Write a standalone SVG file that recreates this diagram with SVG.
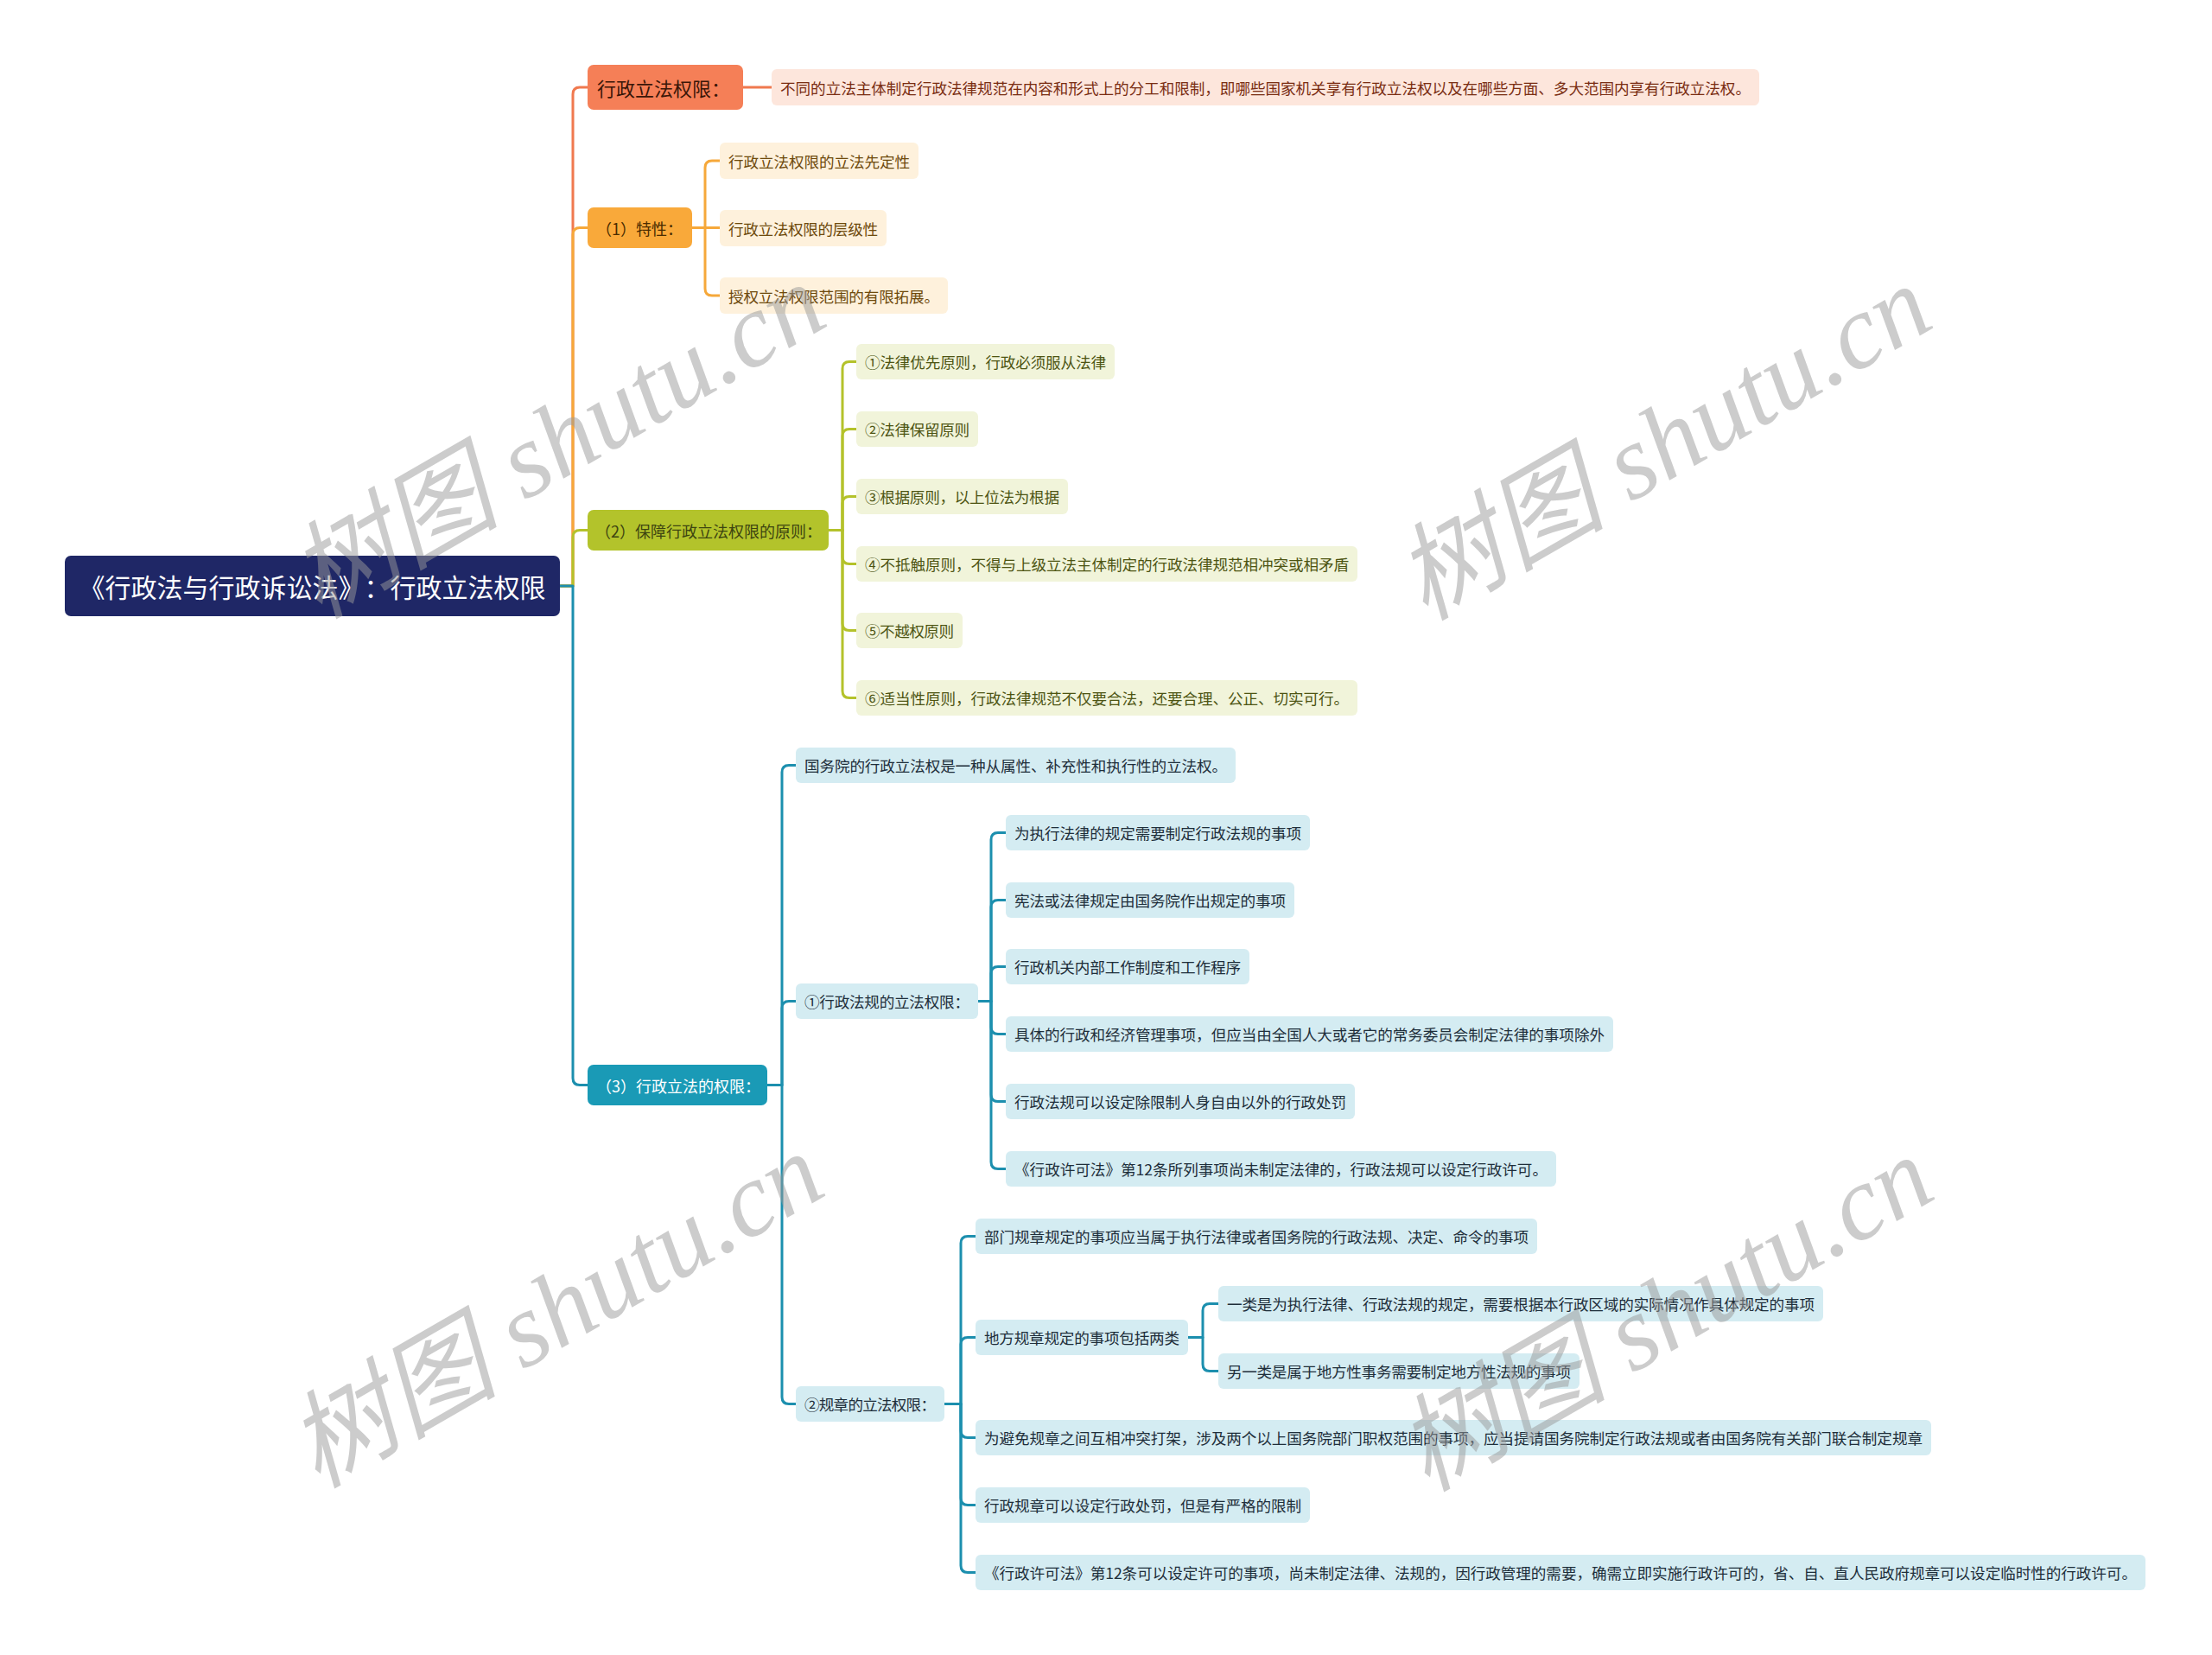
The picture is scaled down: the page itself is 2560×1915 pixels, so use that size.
<svg xmlns="http://www.w3.org/2000/svg" width="2560" height="1915" viewBox="0 0 2560 1915">
<style>
text{font-family:"Noto Sans CJK SC","Liberation Sans",sans-serif;dominant-baseline:central;text-spacing-trim:space-all}
.c{fill:none;stroke-width:3;stroke-linecap:round;stroke-linejoin:round}
.co{stroke:#f0794f}.cy{stroke:#f6a83a}.cg{stroke:#b4c22b}.ct{stroke:#1c8fae}
.t2{font-size:17.6px}
.n-co rect{fill:#fde6dc}.n-co text{fill:#7a2d12}
.n-y rect{fill:#fef1dc}.n-y text{fill:#6e4a0c}
.n-g rect{fill:#f1f4da}.n-g text{fill:#4d5412}
.n-t rect{fill:#d4ecf2}.n-t text{fill:#1e2e3a}
.wm{font-family:"Liberation Serif","Noto Sans CJK SC",serif;font-style:italic;font-size:122px;fill:#9a9a9a;opacity:0.5;text-anchor:middle}
</style>
<rect width="2560" height="1915" fill="#ffffff"/>

<g id="connectors">
  <path class="c co" d="M648 678 H663 V109 Q663 101 671 101 H680"/>
  <path class="c cy" d="M648 678 H663 V271.5 Q663 263.5 671 263.5 H680"/>
  <path class="c cg" d="M648 678 H663 V621.5 Q663 613.5 671 613.5 H680"/>
  <path class="c ct" d="M648 678 H663 V1247.5 Q663 1255.5 671 1255.5 H680"/>
  <path class="c co" d="M860 101 H893"/>
  <path class="c cy" d="M801 263.5 H816 V194 Q816 186 824 186 H833"/>
  <path class="c cy" d="M801 263.5 H833"/>
  <path class="c cy" d="M801 263.5 H816 V334 Q816 342 824 342 H833"/>
  <path class="c cg" d="M959 613.5 H975 V426.5 Q975 418.5 983 418.5 H991"/>
  <path class="c cg" d="M959 613.5 H975 V504.5 Q975 496.5 983 496.5 H991"/>
  <path class="c cg" d="M959 613.5 H975 V582.5 Q975 574.5 983 574.5 H991"/>
  <path class="c cg" d="M959 613.5 H975 V644.5 Q975 652.5 983 652.5 H991"/>
  <path class="c cg" d="M959 613.5 H975 V721.5 Q975 729.5 983 729.5 H991"/>
  <path class="c cg" d="M959 613.5 H975 V799.5 Q975 807.5 983 807.5 H991"/>
  <path class="c ct" d="M888 1255.5 H905 V893.5 Q905 885.5 913 885.5 H921"/>
  <path class="c ct" d="M888 1255.5 H905 V1166.5 Q905 1158.5 913 1158.5 H921"/>
  <path class="c ct" d="M888 1255.5 H905 V1616.5 Q905 1624.5 913 1624.5 H921"/>
  <path class="c ct" d="M1132 1158.5 H1147 V971.5 Q1147 963.5 1155 963.5 H1164"/>
  <path class="c ct" d="M1132 1158.5 H1147 V1049.5 Q1147 1041.5 1155 1041.5 H1164"/>
  <path class="c ct" d="M1132 1158.5 H1147 V1126.5 Q1147 1118.5 1155 1118.5 H1164"/>
  <path class="c ct" d="M1132 1158.5 H1147 V1188.5 Q1147 1196.5 1155 1196.5 H1164"/>
  <path class="c ct" d="M1132 1158.5 H1147 V1266.5 Q1147 1274.5 1155 1274.5 H1164"/>
  <path class="c ct" d="M1132 1158.5 H1147 V1344.5 Q1147 1352.5 1155 1352.5 H1164"/>
  <path class="c ct" d="M1093 1624.5 H1112 V1438.5 Q1112 1430.5 1120 1430.5 H1129"/>
  <path class="c ct" d="M1093 1624.5 H1112 V1555.5 Q1112 1547.5 1120 1547.5 H1129"/>
  <path class="c ct" d="M1093 1624.5 H1112 V1655.5 Q1112 1663.5 1120 1663.5 H1129"/>
  <path class="c ct" d="M1093 1624.5 H1112 V1733.5 Q1112 1741.5 1120 1741.5 H1129"/>
  <path class="c ct" d="M1093 1624.5 H1112 V1811.5 Q1112 1819.5 1120 1819.5 H1129"/>
  <path class="c ct" d="M1375 1547.5 H1392 V1516.5 Q1392 1508.5 1400 1508.5 H1410"/>
  <path class="c ct" d="M1375 1547.5 H1392 V1578.5 Q1392 1586.5 1400 1586.5 H1410"/>
</g>

<g id="root">
  <rect x="75" y="643" width="573" height="70" rx="7" fill="#1f2766"/>
  <text x="361.5" y="678" text-anchor="middle" font-size="30" fill="#ffffff">《行政法与行政诉讼法》：行政立法权限</text>
</g>

<g id="node-a">
  <rect x="680" y="75" width="180" height="52" rx="7" fill="#f57f57"/>
  <text x="691" y="101" font-size="22" fill="#3a1608">行政立法权限：</text>
</g>
<g id="node-a1" class="n-co">
  <rect x="893" y="80" width="1143" height="42" rx="6"/>
  <text class="t2" x="903" y="101" textLength="1123" lengthAdjust="spacing">不同的立法主体制定行政法律规范在内容和形式上的分工和限制，即哪些国家机关享有行政立法权以及在哪些方面、多大范围内享有行政立法权。</text>
</g>

<g id="node-b">
  <rect x="680" y="240" width="121" height="47" rx="7" fill="#f9a93a"/>
  <text x="690" y="263.5" font-size="18" fill="#4a2c00">（1）特性：</text>
</g>
<g id="node-b1" class="n-y"><rect x="833" y="165" width="230" height="42" rx="6"/><text class="t2" x="843" y="186" textLength="210" lengthAdjust="spacing">行政立法权限的立法先定性</text></g>
<g id="node-b2" class="n-y"><rect x="833" y="243" width="193" height="42" rx="6"/><text class="t2" x="843" y="264" textLength="173" lengthAdjust="spacing">行政立法权限的层级性</text></g>
<g id="node-b3" class="n-y"><rect x="833" y="321" width="264" height="42" rx="6"/><text class="t2" x="843" y="342" textLength="244" lengthAdjust="spacing">授权立法权限范围的有限拓展。</text></g>

<g id="node-c">
  <rect x="680" y="590" width="279" height="47" rx="7" fill="#b3c32b"/>
  <text x="689" y="613.5" font-size="18" fill="#3d4410">（2）保障行政立法权限的原则：</text>
</g>
<g id="node-c1" class="n-g"><rect x="991" y="398" width="299" height="41" rx="6"/><text class="t2" x="1001" y="418.5" textLength="279" lengthAdjust="spacing">①法律优先原则，行政必须服从法律</text></g>
<g id="node-c2" class="n-g"><rect x="991" y="476" width="141" height="41" rx="6"/><text class="t2" x="1001" y="496.5" textLength="121" lengthAdjust="spacing">②法律保留原则</text></g>
<g id="node-c3" class="n-g"><rect x="991" y="554" width="245" height="41" rx="6"/><text class="t2" x="1001" y="574.5" textLength="225" lengthAdjust="spacing">③根据原则，以上位法为根据</text></g>
<g id="node-c4" class="n-g"><rect x="991" y="632" width="580" height="41" rx="6"/><text class="t2" x="1001" y="652.5" textLength="560" lengthAdjust="spacing">④不抵触原则，不得与上级立法主体制定的行政法律规范相冲突或相矛盾</text></g>
<g id="node-c5" class="n-g"><rect x="991" y="709" width="123" height="41" rx="6"/><text class="t2" x="1001" y="729.5" textLength="103" lengthAdjust="spacing">⑤不越权原则</text></g>
<g id="node-c6" class="n-g"><rect x="991" y="787" width="580" height="41" rx="6"/><text class="t2" x="1001" y="807.5" textLength="560" lengthAdjust="spacing">⑥适当性原则，行政法律规范不仅要合法，还要合理、公正、切实可行。</text></g>

<g id="node-d">
  <rect x="680" y="1232" width="208" height="47" rx="7" fill="#1a9ab6"/>
  <text x="690" y="1255.5" font-size="18" fill="#ffffff">（3）行政立法的权限：</text>
</g>
<g id="node-d0" class="n-t"><rect x="921" y="865" width="509" height="41" rx="6"/><text class="t2" x="931" y="885.5" textLength="489" lengthAdjust="spacing">国务院的行政立法权是一种从属性、补充性和执行性的立法权。</text></g>
<g id="node-d1" class="n-t"><rect x="921" y="1138" width="211" height="41" rx="6"/><text class="t2" x="931" y="1158.5" textLength="191" lengthAdjust="spacing">①行政法规的立法权限：</text></g>
<g id="node-d1a" class="n-t"><rect x="1164" y="943" width="352" height="41" rx="6"/><text class="t2" x="1174" y="963.5" textLength="332" lengthAdjust="spacing">为执行法律的规定需要制定行政法规的事项</text></g>
<g id="node-d1b" class="n-t"><rect x="1164" y="1021" width="334" height="41" rx="6"/><text class="t2" x="1174" y="1041.5" textLength="314" lengthAdjust="spacing">宪法或法律规定由国务院作出规定的事项</text></g>
<g id="node-d1c" class="n-t"><rect x="1164" y="1098" width="282" height="41" rx="6"/><text class="t2" x="1174" y="1118.5" textLength="262" lengthAdjust="spacing">行政机关内部工作制度和工作程序</text></g>
<g id="node-d1d" class="n-t"><rect x="1164" y="1176" width="703" height="41" rx="6"/><text class="t2" x="1174" y="1196.5" textLength="683" lengthAdjust="spacing">具体的行政和经济管理事项，但应当由全国人大或者它的常务委员会制定法律的事项除外</text></g>
<g id="node-d1e" class="n-t"><rect x="1164" y="1254" width="404" height="41" rx="6"/><text class="t2" x="1174" y="1274.5" textLength="384" lengthAdjust="spacing">行政法规可以设定除限制人身自由以外的行政处罚</text></g>
<g id="node-d1f" class="n-t"><rect x="1164" y="1332" width="637" height="41" rx="6"/><text class="t2" x="1174" y="1352.5" textLength="617" lengthAdjust="spacing">《行政许可法》第12条所列事项尚未制定法律的，行政法规可以设定行政许可。</text></g>

<g id="node-d2" class="n-t"><rect x="921" y="1604" width="172" height="41" rx="6"/><text class="t2" x="931" y="1624.5" textLength="152" lengthAdjust="spacing">②规章的立法权限：</text></g>
<g id="node-d2a" class="n-t"><rect x="1129" y="1410" width="650" height="41" rx="6"/><text class="t2" x="1139" y="1430.5" textLength="630" lengthAdjust="spacing">部门规章规定的事项应当属于执行法律或者国务院的行政法规、决定、命令的事项</text></g>
<g id="node-d2b" class="n-t"><rect x="1129" y="1527" width="246" height="41" rx="6"/><text class="t2" x="1139" y="1547.5" textLength="226" lengthAdjust="spacing">地方规章规定的事项包括两类</text></g>
<g id="node-d2b1" class="n-t"><rect x="1410" y="1488" width="700" height="41" rx="6"/><text class="t2" x="1420" y="1508.5" textLength="680" lengthAdjust="spacing">一类是为执行法律、行政法规的规定，需要根据本行政区域的实际情况作具体规定的事项</text></g>
<g id="node-d2b2" class="n-t"><rect x="1410" y="1566" width="418" height="41" rx="6"/><text class="t2" x="1420" y="1586.5" textLength="398" lengthAdjust="spacing">另一类是属于地方性事务需要制定地方性法规的事项</text></g>
<g id="node-d2c" class="n-t"><rect x="1129" y="1643" width="1106" height="41" rx="6"/><text class="t2" x="1139" y="1663.5" textLength="1086" lengthAdjust="spacing">为避免规章之间互相冲突打架，涉及两个以上国务院部门职权范围的事项，应当提请国务院制定行政法规或者由国务院有关部门联合制定规章</text></g>
<g id="node-d2d" class="n-t"><rect x="1129" y="1721" width="387" height="41" rx="6"/><text class="t2" x="1139" y="1741.5" textLength="367" lengthAdjust="spacing">行政规章可以设定行政处罚，但是有严格的限制</text></g>
<g id="node-d2e" class="n-t"><rect x="1129" y="1799" width="1354" height="41" rx="6"/><text class="t2" x="1139" y="1819.5" textLength="1334" lengthAdjust="spacing">《行政许可法》第12条可以设定许可的事项，尚未制定法律、法规的，因行政管理的需要，确需立即实施行政许可的，省、自、直人民政府规章可以设定临时性的行政许可。</text></g>

<g id="watermarks">
  <text class="wm" x="645" y="510" transform="rotate(-30 645 510)">树图 shutu.cn</text>
  <text class="wm" x="1925" y="512" transform="rotate(-30 1925 512)">树图 shutu.cn</text>
  <text class="wm" x="643" y="1516" transform="rotate(-30 643 1516)">树图 shutu.cn</text>
  <text class="wm" x="1927" y="1520" transform="rotate(-30 1927 1520)">树图 shutu.cn</text>
</g>
</svg>
